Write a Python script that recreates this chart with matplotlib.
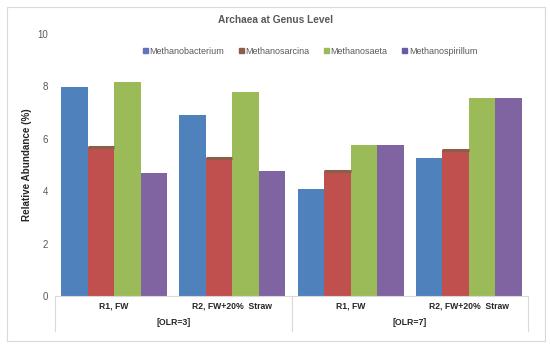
import matplotlib.pyplot as plt
import numpy as np
from matplotlib.patches import Rectangle, Patch

plt.rcParams["font.family"] = ["Liberation Sans", "DejaVu Sans"]

# data
reactors = ["R1, FW", "R2, FW+20%  Straw", "R1, FW", "R2, FW+20%  Straw"]
olr_groups = ["[OLR=3]", "[OLR=7]"]
genera = ["Methanobacterium", "Methanosarcina", "Methanosaeta", "Methanospirillum"]
methanobacterium = [7.98, 6.92, 4.08, 5.27]
methanosarcina = [5.68, 5.27, 4.78, 5.56]
methanosaeta = [8.18, 7.77, 5.77, 7.57]
methanospirillum = [4.68, 4.78, 5.77, 7.57]

series = [methanobacterium, methanosarcina, methanosaeta, methanospirillum]
colors = ["#4F81BD", "#C0504D", "#9BBB59", "#8064A2"]
legend_colors = ["#6470C0", "#8C5E4A", "#9BBB59", "#6A5AA8"]

fig = plt.figure(figsize=(5.5, 3.48), dpi=100)
W, H = 550, 348
fig.patches.append(Rectangle((7 / W, 1 - 341 / H), 538 / W, 334 / H, transform=fig.transFigure,
                             fill=False, edgecolor="#D9D9D9", linewidth=0.8))

ax = fig.add_axes([55 / W, 1 - 296 / H, 473 / W, 262 / H])
x = np.arange(len(reactors))
bw = 0.224
for i, (vals, c) in enumerate(zip(series, colors)):
    pos = x + (i - 1.5) * bw
    ax.bar(pos, vals, width=bw, color=c, linewidth=0)
    if i == 1:
        # darker cap on the sarcina bars as in the reference
        ax.hlines(vals, pos - bw / 2, pos + bw / 2, color="#8C5E4A", linewidth=2.2)

ax.set_xlim(-0.5, len(reactors) - 0.5)
ax.set_ylim(0, 10)
ax.set_yticks([0, 2, 4, 6, 8, 10])
ax.tick_params(axis="y", length=0, labelsize=7, labelcolor="#595959", pad=5)
ax.set_xticks([])
for s in ["top", "right", "left"]:
    ax.spines[s].set_visible(False)
ax.spines["bottom"].set_color("#D9D9D9")

# two-level category labels
for xi, r in zip(x, reactors):
    ax.text(xi, -0.4, r, ha="center", va="center", fontsize=6.2, fontweight="bold", color="#262626")
for gi, g in enumerate(olr_groups):
    ax.text(2 * gi + 0.5, -1.0, g, ha="center", va="center", fontsize=6.3, fontweight="bold", color="#262626")
for xs in [-0.5, 1.5, 3.5]:
    ax.plot([xs, xs], [0, -1.35], color="#D9D9D9", linewidth=0.8, clip_on=False)

ax.set_ylabel("Relative Abundance (%)", fontsize=7.1, fontweight="bold", color="#262626", labelpad=4)
fig.text(276 / W, 1 - 20 / H, "Archaea at Genus Level", ha="center", va="center",
         fontsize=7.3, fontweight="bold", color="#595959")

handles = [Patch(color=c) for c in legend_colors]
fig.legend(handles, genera, loc="center", bbox_to_anchor=(310 / W, 1 - 51 / H), ncol=4,
           frameon=False, fontsize=6.5, labelcolor="#595959", handlelength=0.55, handleheight=0.55,
           handletextpad=0.2, columnspacing=1.6)

fig.savefig("out.png", dpi=100)
